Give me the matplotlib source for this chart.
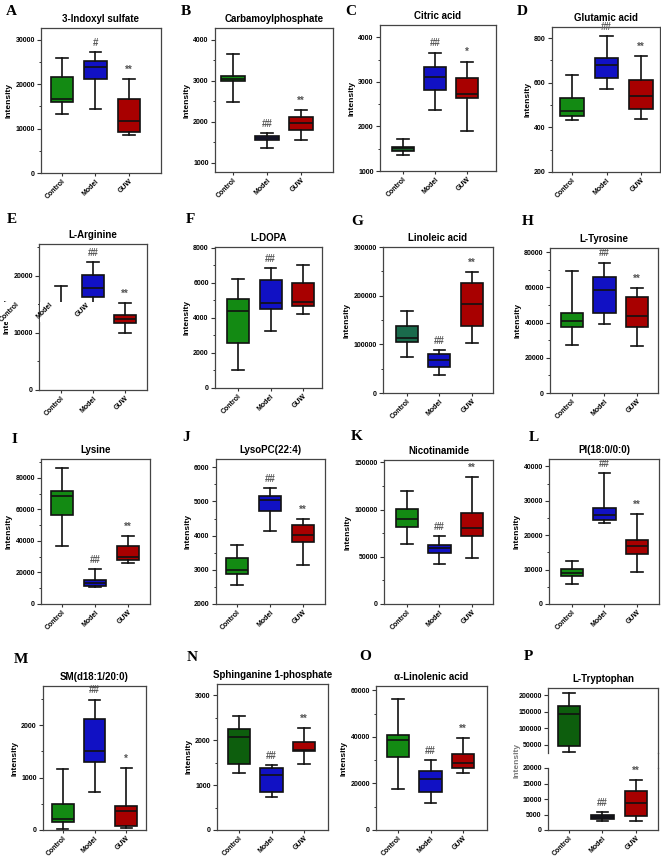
import matplotlib
matplotlib.use("Agg")
import matplotlib.pyplot as plt
import matplotlib.transforms as mtransforms
from matplotlib.patches import Rectangle
from matplotlib.lines import Line2D
from matplotlib.ticker import MultipleLocator, FormatStrFormatter

plt.rcParams["font.family"] = ["Liberation Sans", "DejaVu Sans"]
plt.rcParams["font.weight"] = "bold"

GROUPS = ["Control", "Model", "GUW"]

# [whisker low, Q1, median, Q3, whisker high] for Control, Model, GUW
indoxyl_sulfate = [[13300, 16100, 16800, 21600, 26000], [14500, 21100, 24000, 25200, 27300], [8600, 9300, 11800, 16800, 21100]]
carbamoylphosphate = [[2480, 3000, 3050, 3130, 3650], [1370, 1560, 1600, 1660, 1720], [1560, 1810, 1970, 2130, 2300]]
citric_acid = [[1370, 1460, 1510, 1550, 1730], [2380, 2810, 3120, 3340, 3660], [1900, 2650, 2720, 3090, 3460]]
glutamic_acid = [[432, 450, 475, 533, 636], [574, 623, 680, 712, 810], [436, 482, 540, 612, 720]]
l_arginine = [[12500, 13200, 14000, 14900, 18300], [13500, 16300, 17900, 20200, 22500], [10000, 11800, 12500, 13200, 15200]]
l_dopa = [[1000, 2550, 4380, 5100, 6230], [3250, 4520, 4850, 6180, 6850], [4230, 4680, 4930, 5980, 7050]]
linoleic_acid = [[75000, 104000, 113000, 138000, 169000], [37000, 53000, 68000, 80000, 88000], [103000, 138000, 183000, 226000, 248000]]
l_tyrosine = [[27500, 37500, 41000, 45500, 69000], [39000, 45500, 58500, 66000, 74000], [26500, 37500, 43500, 54500, 59500]]
lysine = [[37000, 56500, 68500, 72000, 86000], [10500, 11500, 13500, 15500, 22000], [26000, 28000, 30000, 37000, 43000]]
lysopc = [[2550, 2870, 2980, 3350, 3720], [4140, 4720, 5030, 5160, 5400], [3150, 3810, 4010, 4310, 4490]]
nicotinamide = [[64000, 82000, 90000, 101000, 120000], [42000, 54000, 59000, 63000, 72000], [49000, 72000, 80000, 96000, 135000]]
pi_18 = [[5800, 8000, 9000, 10200, 12400], [23500, 24500, 26000, 28000, 38000], [9300, 14500, 17000, 18700, 26300]]
sm_d18 = [[10, 160, 210, 500, 1170], [720, 1290, 1510, 2120, 2490], [40, 70, 370, 460, 1180]]
sphinganine = [[1270, 1470, 2070, 2250, 2540], [740, 850, 1230, 1370, 1450], [1480, 1750, 1780, 1950, 2280]]
a_linolenic = [[17500, 31500, 38500, 41000, 56500], [11500, 16500, 22000, 25500, 30000], [24500, 26700, 29000, 32500, 39500]]
l_tryptophan = [[28000, 47000, 142000, 168000, 206000], [2800, 3600, 4100, 4700, 5900], [2900, 4500, 8700, 12500, 16000]]

# significance marks above Control, Model, GUW
marks_A = ["", "#", "**"]
marks_B = ["", "##", "**"]
marks_C = ["", "##", "*"]
marks_D = ["", "##", "**"]
marks_E = ["", "##", "**"]
marks_F = ["", "##", ""]
marks_G = ["", "##", "**"]
marks_H = ["", "##", "**"]
marks_I = ["", "##", "**"]
marks_J = ["", "##", "**"]
marks_K = ["", "##", "**"]
marks_L = ["", "##", "**"]
marks_M = ["", "##", "*"]
marks_N = ["", "##", "**"]
marks_O = ["", "##", "**"]
marks_P = ["", "##", "**"]

W, H = 661, 856
GREEN = "#138a13"
BLUE = "#1111c4"
RED = "#a80000"

# letter, title, stats, marks, axes px (left, right, top, bottom), xlim, ylim, major, minor, control colour, model colour
panels = [
    ("A", "3-Indoxyl sulfate", indoxyl_sulfate, marks_A, (41, 161, 28, 173), (0.37, 3.96), (0, 32700), 10000, 5000, GREEN, BLUE),
    ("B", "Carbamoylphosphate", carbamoylphosphate, marks_B, (215, 333, 28, 172), (0.47, 3.94), (780, 4290), 1000, 500, GREEN, "#20208a"),
    ("C", "Citric acid", citric_acid, marks_C, (380, 496, 25, 171), (0.28, 3.91), (1000, 4280), 1000, 500, "#1d5e2a", BLUE),
    ("D", "Glutamic acid", glutamic_acid, marks_D, (552, 660, 27, 172), (0.42, 3.55), (200, 850), 200, 100, GREEN, BLUE),
    ("E", "L-Arginine", l_arginine, marks_E, (39, 147, 244, 390), (0.31, 3.69), (0, 25600), 10000, 5000, GREEN, BLUE),
    ("F", "L-DOPA", l_dopa, marks_F, (215, 322, 247, 388), (0.29, 3.58), (0, 8050), 2000, 1000, GREEN, BLUE),
    ("G", "Linoleic acid", linoleic_acid, marks_G, (383, 493, 247, 393), (0.26, 3.65), (0, 300000), 100000, 50000, "#1a6b4c", BLUE),
    ("H", "L-Tyrosine", l_tyrosine, marks_H, (550, 658, 248, 393), (0.32, 3.65), (0, 82300), 20000, 10000, GREEN, BLUE),
    ("I", "Lysine", lysine, marks_I, (41, 150, 459, 604), (0.36, 3.67), (0, 92000), 20000, 10000, GREEN, BLUE),
    ("J", "LysoPC(22:4)", lysopc, marks_J, (216, 325, 459, 604), (0.36, 3.67), (2000, 6240), 1000, 500, GREEN, BLUE),
    ("K", "Nicotinamide", nicotinamide, marks_K, (384, 493, 460, 604), (0.29, 3.65), (0, 152500), 50000, 25000, GREEN, BLUE),
    ("L", "PI(18:0/0:0)", pi_18, marks_L, (549, 659, 459, 604), (0.29, 3.68), (0, 42150), 10000, 5000, GREEN, BLUE),
    ("M", "SM(d18:1/20:0)", sm_d18, marks_M, (43, 146, 686, 830), (0.37, 3.63), (0, 2750), 1000, 500, GREEN, BLUE),
    ("N", "Sphinganine 1-phosphate", sphinganine, marks_N, (217, 328, 684, 830), (0.32, 3.74), (0, 3250), 1000, 500, "#0d5e0d", BLUE),
    ("O", "\u03b1-Linolenic acid", a_linolenic, marks_O, (376, 487, 686, 830), (0.32, 3.74), (0, 61900), 20000, 10000, GREEN, BLUE),
]

letter_pos = {"A": (6, 5), "B": (181, 5), "C": (345, 5), "D": (517, 5),
              "E": (7, 213), "F": (186, 213), "G": (351, 215), "H": (522, 215),
              "I": (12, 433), "J": (182, 431), "K": (351, 430), "L": (529, 431),
              "M": (14, 653), "N": (187, 651), "O": (359, 650), "P": (524, 650)}


def px_rect(l, r, t, b):
    return [l / W, 1 - b / H, (r - l) / W, (b - t) / H]


def draw_boxes(ax, stats, colors):
    bxp_stats = [dict(whislo=s[0], q1=s[1], med=s[2], q3=s[3], whishi=s[4]) for s in stats]
    res = ax.bxp(bxp_stats, positions=[1, 2, 3], widths=0.68, capwidths=0.35,
                 patch_artist=True, showfliers=False,
                 boxprops=dict(edgecolor="#111111", linewidth=1.2),
                 medianprops=dict(color="#111111", linewidth=1.2),
                 whiskerprops=dict(color="#111111", linewidth=1.2),
                 capprops=dict(color="#111111", linewidth=1.2))
    for patch, c in zip(res["boxes"], colors):
        patch.set_facecolor(c)


def style_axis(ax, ylim, major, minor, xlabels=True):
    ax.set_ylim(*ylim)
    ax.yaxis.set_major_locator(MultipleLocator(major))
    ax.yaxis.set_minor_locator(MultipleLocator(minor))
    ax.yaxis.set_major_formatter(FormatStrFormatter("%d"))
    ax.tick_params(axis="y", which="major", length=3, width=0.8, labelsize=5, pad=1.5, color="#333333")
    ax.tick_params(axis="y", which="minor", length=1.5, width=0.7, color="#333333")
    ax.tick_params(axis="x", length=2.5, width=0.8, color="#333333", labelsize=5, pad=1)
    ax.set_xticks([1, 2, 3])
    if xlabels:
        ax.set_xticklabels(GROUPS, rotation=45, ha="right", rotation_mode="anchor", fontweight="bold")
    else:
        ax.set_xticklabels([])
        ax.tick_params(axis="x", length=0)
    for lab in ax.get_yticklabels():
        lab.set_fontweight("bold")
    for sp in ax.spines.values():
        sp.set_color("#444444")
        sp.set_linewidth(0.9)


def add_marks(ax, stats, marks):
    for i, (s, m) in enumerate(zip(stats, marks)):
        if m:
            ax.annotate(m, (i + 1, s[4]), xytext=(0, 3), textcoords="offset points",
                        ha="center", va="bottom", fontsize=7, color="#555555")


fig = plt.figure(figsize=(W / 100, H / 100), dpi=100)
axes = {}

for letter, title, stats, marks, px, xlim, ylim, major, minor, c_col, m_col in panels:
    ax = fig.add_axes(px_rect(*px))
    draw_boxes(ax, stats, [c_col, m_col, RED])
    ax.set_xlim(*xlim)
    style_axis(ax, ylim, major, minor)
    add_marks(ax, stats, marks)
    ax.set_title(title, fontsize=7, fontweight="bold", pad=4)
    ax.set_ylabel("Intensity", fontsize=6, fontweight="bold", labelpad=2)
    axes[letter] = ax

# panel P: broken y axis
p_xlim = (0.37, 3.66)
ax_top = fig.add_axes(px_rect(548, 658, 688, 753))
ax_bot = fig.add_axes(px_rect(548, 658, 768, 830))
for ax in (ax_top, ax_bot):
    draw_boxes(ax, l_tryptophan, ["#0d5e0d", "#222244", RED])
    ax.set_xlim(*p_xlim)
style_axis(ax_top, (24300, 222600), 50000, 50000, xlabels=False)
style_axis(ax_bot, (0, 20000), 5000, 5000)
ax_top.spines["bottom"].set_visible(False)
ax_bot.spines["top"].set_visible(False)
ax_top.set_title("L-Tryptophan", fontsize=7, fontweight="bold", pad=4)
add_marks(ax_bot, l_tryptophan, marks_P)
fig.text(517 / W, 1 - 760 / H, "Intensity", rotation=90, fontsize=6, fontweight="bold",
         color="#777777", ha="center", va="center")
fig.add_artist(Line2D([658 / W, 658 / W], [1 - 768 / H, 1 - 753 / H], color="#444444", lw=0.9))

# panel E: pasted strip over part of the plot, as in the original figure
axE = axes["E"]
tr = mtransforms.blended_transform_factory(fig.transFigure, axE.transData)
for x0, x1 in ((0, 38.3), (39.7, 101)):
    fig.add_artist(Rectangle((x0 / W, 11940), (x1 - x0) / W, 15470 - 11940, transform=tr,
                             facecolor="white", edgecolor="none", zorder=5))
for x, lab in ((16, "Control"), (49, "Model"), (86, "GUW")):
    fig.text(x / W, 1 - 301 / H, lab, rotation=45, ha="right", va="top", rotation_mode="anchor",
             fontsize=5, fontweight="bold", zorder=6)

for letter, (x, y) in letter_pos.items():
    fig.text(x / W, 1 - y / H, letter, family=["Liberation Serif", "DejaVu Serif"],
             fontweight="bold", fontsize=11, va="top", ha="left")

fig.savefig("out.png", dpi=100)
